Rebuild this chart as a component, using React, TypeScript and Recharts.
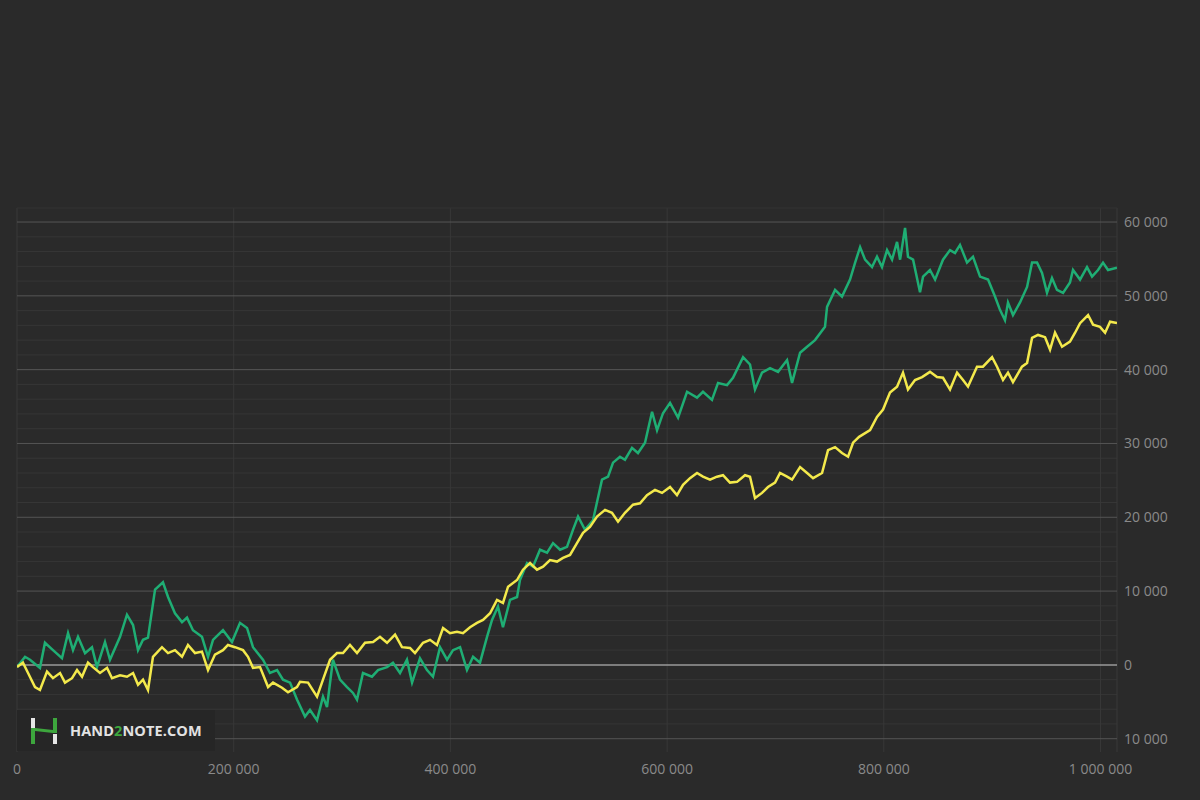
import { LineChart, Line, XAxis, YAxis, ReferenceLine } from "recharts";

// values in thousands (hands played / winnings)
const greenHandsK = [
  0, 7.4, 12.0, 21.2, 25.8, 33.2, 41.5, 47.1, 51.7, 56.3,
  62.8, 69.2, 73.8, 81.2, 85.8, 95.1, 101.5, 107.1, 111.7, 116.3,
  120.9, 127.4, 134.7, 139.4, 145.8, 152.3, 156.9, 162.4, 170.7, 176.3,
  180.9, 190.1, 198.4, 205.8, 212.3, 217.8, 227.0, 233.5, 240.0, 245.5,
  252.0, 258.4, 265.8, 270.4, 276.9, 282.4, 286.1, 291.6, 298.1, 304.6,
  310.1, 313.8, 319.3, 327.6, 333.2, 341.5, 347.0, 353.5, 359.9, 364.6,
  371.9, 378.4, 383.9, 390.4, 396.9, 402.4, 408.9, 415.3, 420.9, 427.3,
  433.8, 438.4, 443.9, 448.5, 455.0, 461.5, 464.2, 470.7, 476.2, 482.7,
  489.2, 494.7, 501.2, 507.6, 513.1, 517.8, 524.2, 531.6, 539.9, 545.5,
  550.1, 556.5, 561.1, 567.6, 573.1, 579.6, 586.1, 590.7, 596.2, 602.7,
  610.1, 618.4, 627.6, 633.1, 641.4, 647.0, 655.3, 660.8, 670.1, 676.5,
  681.1, 687.6, 695.0, 702.4, 710.7, 715.3, 722.7, 729.2, 736.5, 745.7,
  747.6, 755.0, 761.4, 768.8, 773.5, 778.1, 782.7, 789.1, 793.7, 798.3,
  803.0, 807.6, 812.2, 815.0, 819.6, 822.3, 827.0, 833.4, 836.2, 842.6,
  847.3, 854.6, 861.1, 865.7, 870.3, 876.8, 882.3, 888.8, 896.2, 902.6,
  907.2, 911.8, 914.6, 919.2, 925.7, 932.2, 936.8, 941.4, 946.0, 950.6,
  955.2, 959.8, 965.4, 971.8, 974.6, 981.1, 987.5, 992.2, 997.7, 1002.3,
  1006.9, 1015.2,
];
const greenWonK = [
  -0.3, 1.1, 0.7, -0.4, 3.0, 2.0, 0.9, 4.3, 2.0, 3.8,
  1.6, 2.4, -0.3, 3.1, 0.7, 3.8, 6.8, 5.4, 2.0, 3.4,
  3.7, 10.2, 11.2, 9.2, 7.0, 5.8, 6.4, 4.7, 3.8, 1.1,
  3.4, 4.7, 3.1, 5.7, 5.0, 2.4, 0.7, -1.1, -0.7, -2.0,
  -2.4, -4.7, -7.0, -6.1, -7.5, -4.3, -5.7, 0.7, -2.0, -3.0,
  -3.8, -4.7, -1.1, -1.6, -0.7, -0.3, 0.3, -1.1, 0.7, -2.4,
  0.9, -0.7, -1.6, 2.4, 0.7, 2.0, 2.4, -0.7, 1.1, 0.3,
  3.8, 6.1, 7.9, 5.1, 8.8, 9.2, 11.5, 13.8, 13.3, 15.6,
  15.2, 16.5, 15.6, 16.0, 18.3, 20.1, 18.3, 19.6, 25.1, 25.5,
  27.4, 28.2, 27.8, 29.4, 28.7, 30.1, 34.3, 31.8, 34.1, 35.5,
  33.5, 37.0, 36.2, 37.0, 35.9, 38.2, 37.9, 38.9, 41.7, 40.7,
  37.3, 39.6, 40.2, 39.7, 41.3, 38.2, 42.3, 43.1, 44.0, 45.8,
  48.5, 50.8, 49.9, 52.2, 54.5, 56.6, 54.9, 53.9, 55.3, 53.9,
  56.2, 54.9, 57.3, 54.9, 59.2, 55.3, 54.9, 50.5, 52.6, 53.5,
  52.2, 54.9, 56.2, 55.8, 56.9, 54.5, 55.3, 52.6, 52.2, 49.9,
  48.1, 46.7, 49.1, 47.4, 49.1, 51.2, 54.5, 54.5, 53.1, 50.4,
  52.4, 50.8, 50.4, 51.8, 53.5, 52.2, 53.9, 52.6, 53.5, 54.5,
  53.5, 53.8,
];

const yellowHandsK = [
  0, 5.5, 10.2, 16.6, 21.2, 27.7, 33.2, 39.7, 44.3, 50.8,
  55.4, 60.0, 65.5, 70.1, 76.6, 83.1, 87.7, 95.1, 101.5, 107.1,
  111.7, 116.3, 120.9, 125.5, 133.8, 139.4, 145.8, 152.3, 157.8, 164.3,
  170.7, 176.3, 182.7, 190.1, 194.7, 201.2, 208.6, 213.2, 217.8, 224.3,
  231.7, 236.3, 244.6, 250.1, 258.4, 261.2, 268.6, 276.9, 282.4, 288.9,
  295.3, 300.9, 307.3, 313.8, 321.2, 328.6, 335.0, 341.5, 348.9, 355.3,
  362.7, 367.3, 374.7, 381.2, 387.6, 393.2, 399.6, 406.1, 411.6, 418.1,
  424.5, 430.1, 436.6, 443.0, 448.5, 453.2, 461.5, 467.0, 473.5, 479.9,
  485.5, 491.9, 498.4, 503.9, 510.4, 516.8, 522.4, 528.8, 535.3, 542.7,
  549.1, 554.7, 561.1, 568.5, 575.0, 581.4, 588.8, 595.3, 602.7, 609.1,
  614.7, 621.1, 627.6, 633.1, 639.6, 646.0, 651.6, 658.0, 664.5, 671.9,
  676.5, 681.1, 687.6, 693.1, 699.6, 704.2, 710.7, 715.3, 722.7, 729.2,
  734.7, 743.0, 748.5, 755.0, 761.4, 767.0, 771.6, 777.2, 787.3, 793.7,
  799.3, 805.7, 812.2, 817.7, 822.3, 828.8, 835.3, 842.6, 849.1, 854.6,
  861.1, 867.6, 873.1, 877.7, 886.0, 891.5, 899.9, 904.5, 910.0, 914.6,
  919.2, 927.5, 932.2, 936.8, 942.3, 948.8, 953.4, 958.0, 964.5, 971.8,
  976.5, 981.1, 988.5, 993.1, 999.5, 1004.2, 1008.8, 1015.2,
];
const yellowWonK = [
  -0.3, 0.3, -1.1, -3.0, -3.4, -0.9, -1.8, -1.1, -2.4, -1.8,
  -0.7, -1.6, 0.3, -0.3, -1.1, -0.4, -1.8, -1.4, -1.6, -1.1,
  -2.7, -2.0, -3.4, 1.1, 2.4, 1.6, 2.0, 1.1, 2.7, 1.6,
  1.8, -0.7, 1.4, 2.0, 2.7, 2.4, 2.0, 1.1, -0.4, -0.3,
  -3.0, -2.4, -3.1, -3.7, -3.0, -2.3, -2.4, -4.3, -2.0, 0.7,
  1.6, 1.6, 2.7, 1.6, 3.0, 3.1, 3.8, 3.0, 4.1, 2.4,
  2.3, 1.6, 3.0, 3.4, 2.7, 5.0, 4.3, 4.5, 4.3, 5.1,
  5.7, 6.1, 7.0, 8.8, 8.4, 10.6, 11.5, 12.9, 13.8, 12.9,
  13.3, 14.2, 14.0, 14.5, 14.9, 16.5, 17.9, 18.7, 20.1, 21.0,
  20.6, 19.4, 20.6, 21.7, 21.9, 23.0, 23.7, 23.3, 24.1, 23.0,
  24.4, 25.3, 26.0, 25.5, 25.1, 25.5, 25.7, 24.7, 24.8, 25.7,
  25.5, 22.6, 23.3, 24.1, 24.7, 26.0, 25.5, 25.1, 26.8, 26.0,
  25.3, 26.0, 29.1, 29.5, 28.7, 28.2, 30.1, 30.9, 31.8, 33.6,
  34.6, 36.9, 37.7, 39.6, 37.3, 38.6, 39.0, 39.7, 39.0, 38.9,
  37.3, 39.6, 38.6, 37.7, 40.4, 40.4, 41.7, 40.4, 38.6, 39.6,
  38.3, 40.4, 40.9, 44.3, 44.7, 44.4, 42.7, 45.0, 43.1, 43.8,
  45.0, 46.3, 47.4, 46.1, 45.8, 45.0, 46.5, 46.3,
];

const xTicks = [0, 200000, 400000, 600000, 800000, 1000000];
const yTicks = [-10000, 0, 10000, 20000, 30000, 40000, 50000, 60000];
const yMinorTicks = [
  -8000, -6000, -4000, -2000, 2000, 4000, 6000, 8000, 12000, 14000, 16000, 18000,
  22000, 24000, 26000, 28000, 32000, 34000, 36000, 38000, 42000, 44000, 46000,
  48000, 52000, 54000, 56000, 58000,
];

const greenData = greenHandsK.map((h, i) => ({ hands: h * 1000, won: greenWonK[i] * 1000 }));
const yellowData = yellowHandsK.map((h, i) => ({ hands: h * 1000, won: yellowWonK[i] * 1000 }));

const fmt = (v: number) => String(Math.abs(v)).replace(/\B(?=(\d{3})+(?!\d))/g, " ");

const tickStyle = { fontSize: 14, fill: "#8a8a8a", fontFamily: "'Open Sans', sans-serif" };

function Watermark() {
  return (
    <div
      style={{
        position: "absolute",
        left: 17,
        top: 710,
        width: 198,
        height: 41,
        background: "#262626",
        display: "flex",
        alignItems: "center",
      }}
    >
      <svg width={30} height={30} style={{ marginLeft: 12 }}>
        <rect x={2} y={2} width={4} height={10} fill="#e6e6e6" />
        <rect x={2} y={12} width={4} height={16} fill="#3da63d" />
        <rect x={24} y={2} width={4} height={15} fill="#3da63d" />
        <rect x={24} y={18} width={4} height={10} fill="#e6e6e6" />
        <polygon points="6,12 24,14 24,17 6,15" fill="#3da63d" />
      </svg>
      <span
        style={{
          marginLeft: 11,
          fontFamily: "'Open Sans', sans-serif",
          fontWeight: 700,
          fontSize: 14.5,
          color: "#e2e2e2",
          letterSpacing: 0.1,
        }}
      >
        HAND<span style={{ color: "#3da63d" }}>2</span>NOTE.COM
      </span>
    </div>
  );
}

export default function App() {
  return (
    <div
      style={{
        position: "absolute",
        left: 0,
        top: 0,
        width: 1200,
        height: 800,
        background: "#2a2a2a",
        overflow: "hidden",
      }}
    >
      <LineChart
        width={1200}
        height={800}
        margin={{ top: 208, right: 0, bottom: 18, left: 17 }}
      >
        <XAxis
          type="number"
          dataKey="hands"
          domain={[0, 1015200]}
          ticks={xTicks}
          interval={0}
          tickFormatter={fmt}
          tick={tickStyle}
          axisLine={false}
          tickLine={false}
          tickSize={0}
          tickMargin={12}
          height={30}
          allowDataOverflow
        />
        <YAxis
          type="number"
          orientation="right"
          domain={[-11800, 61900]}
          ticks={yTicks}
          interval={0}
          tickFormatter={fmt}
          tick={tickStyle}
          axisLine={false}
          tickLine={false}
          tickSize={0}
          tickMargin={7}
          width={83}
          allowDataOverflow
        />
        {yMinorTicks.map((v) => (
          <ReferenceLine key={"m" + v} y={v} stroke="#363636" strokeWidth={1} />
        ))}
        {xTicks.map((v) => (
          <ReferenceLine key={"x" + v} x={v} stroke="#383838" strokeWidth={1} />
        ))}
        <ReferenceLine x={1015200} stroke="#383838" strokeWidth={1} />
        <ReferenceLine y={61900} stroke="#333" strokeWidth={1} />
        {yTicks.map((v) => (
          <ReferenceLine
            key={"y" + v}
            y={v}
            stroke={v === 0 ? "#9a9a9a" : "#555"}
            strokeWidth={v === 0 ? 1.5 : 1}
          />
        ))}
        <Line
          data={greenData}
          dataKey="won"
          type="linear"
          stroke="#1fae74"
          strokeWidth={2.5}
          dot={false}
          isAnimationActive={false}
        />
        <Line
          data={yellowData}
          dataKey="won"
          type="linear"
          stroke="#f3e94c"
          strokeWidth={2.5}
          dot={false}
          isAnimationActive={false}
        />
      </LineChart>
      <Watermark />
    </div>
  );
}
